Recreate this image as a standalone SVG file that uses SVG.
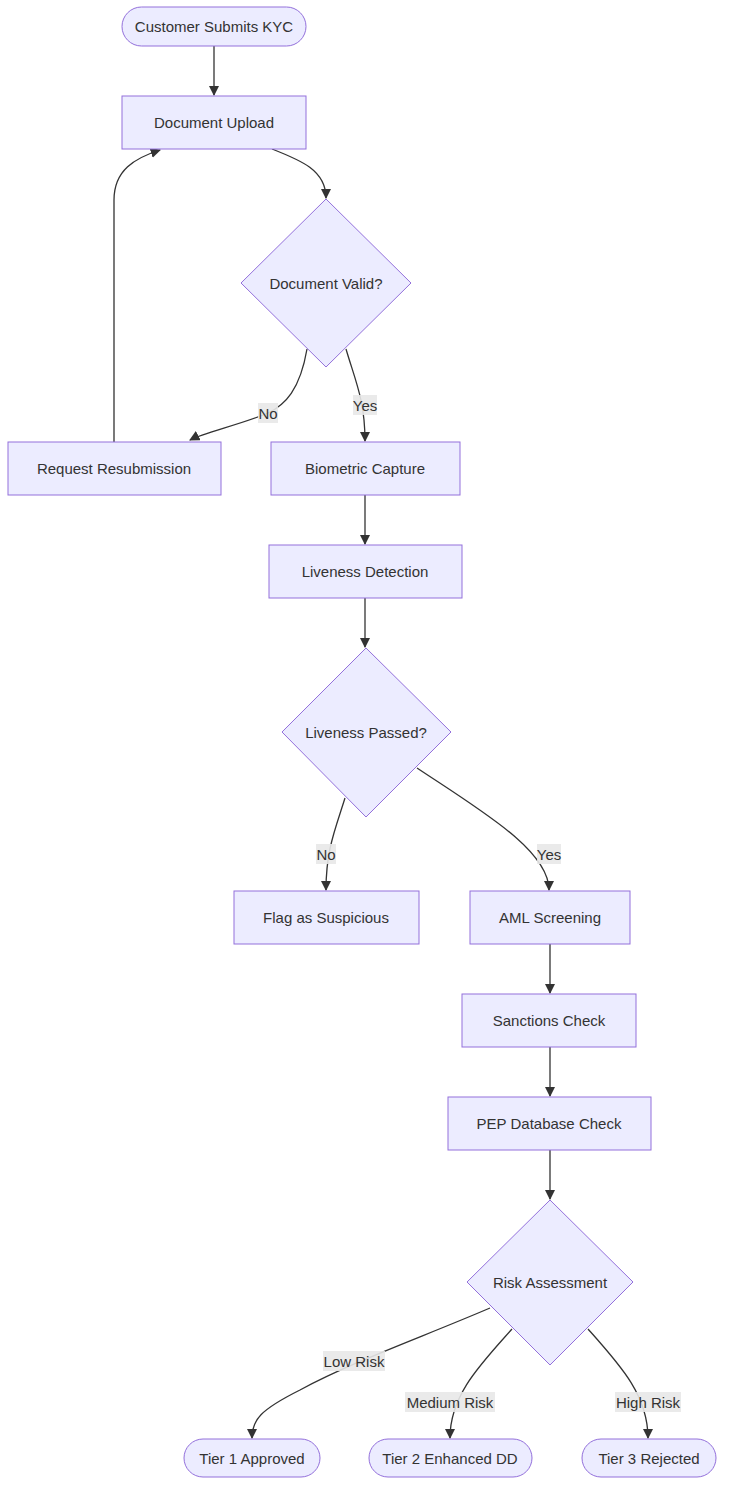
<svg xmlns="http://www.w3.org/2000/svg" width="731" height="1501" viewBox="0 0 731 1501">
<style>
.n{fill:#ECECFF;stroke:#9370DB;stroke-width:1}
.t{font-family:"Liberation Sans","DejaVu Sans",sans-serif;font-size:15px;fill:#333;text-anchor:middle;dominant-baseline:central}
.e{fill:none;stroke:#333;stroke-width:1.3}
.lb{fill:#e8e8e8;opacity:0.9}
</style>
<defs><marker id="a" viewBox="0 0 10 10" refX="9" refY="5" markerWidth="8" markerHeight="8" orient="auto"><path d="M0,0L10,5L0,10z" fill="#333"/></marker></defs>
<rect width="731" height="1501" fill="#fff"/>
<g id="edges">
<path class="e" marker-end="url(#a)" d="M214,46L214,95"/>
<path class="e" marker-end="url(#a)" d="M272,149C300,160 326,170 326,198"/>
<path class="e" marker-end="url(#a)" d="M307,349C300,390 285,405 268,413C240,425 205,432 190,440"/>
<path class="e" marker-end="url(#a)" d="M114,442L114,200C114,170 135,158 160,150"/>
<path class="e" marker-end="url(#a)" d="M346,349C355,380 365,400 365,441"/>
<path class="e" marker-end="url(#a)" d="M365,495L365,544"/>
<path class="e" marker-end="url(#a)" d="M365,598L365,647"/>
<path class="e" marker-end="url(#a)" d="M345,798C335,830 326,850 326,890"/>
<path class="e" marker-end="url(#a)" d="M417,768C480,810 549,850 549,890"/>
<path class="e" marker-end="url(#a)" d="M550,944L550,993"/>
<path class="e" marker-end="url(#a)" d="M550,1047L550,1096"/>
<path class="e" marker-end="url(#a)" d="M550,1150L550,1199"/>
<path class="e" marker-end="url(#a)" d="M490,1308C420,1338 354,1361 300,1390C260,1410 252,1420 252,1438"/>
<path class="e" marker-end="url(#a)" d="M512,1329C480,1365 450,1395 450,1438"/>
<path class="e" marker-end="url(#a)" d="M588,1329C620,1365 648,1395 648,1438"/>
</g>
<g id="labels">
<rect class="lb" x="258" y="403" width="20" height="20"/><text class="t" x="268" y="413">No</text>
<rect class="lb" x="353" y="395" width="24" height="20"/><text class="t" x="365" y="405">Yes</text>
<rect class="lb" x="316" y="844" width="20" height="20"/><text class="t" x="326" y="854">No</text>
<rect class="lb" x="537" y="844" width="24" height="20"/><text class="t" x="549" y="854">Yes</text>
<rect class="lb" x="323" y="1351" width="62" height="20"/><text class="t" x="354" y="1361">Low Risk</text>
<rect class="lb" x="405" y="1392" width="90" height="20"/><text class="t" x="450" y="1402">Medium Risk</text>
<rect class="lb" x="615" y="1392" width="66" height="20"/><text class="t" x="648" y="1402">High Risk</text>
</g>
<g id="kyc"><rect class="n" x="122" y="7" width="184" height="39" rx="19.5"/><text class="t" x="214" y="26">Customer Submits KYC</text></g>
<g id="upload"><rect class="n" x="122" y="96" width="184" height="53"/><text class="t" x="214" y="122">Document Upload</text></g>
<g id="valid"><polygon class="n" points="326,199 411,283 326,367 241,283"/><text class="t" x="326" y="283">Document Valid?</text></g>
<g id="resub"><rect class="n" x="8" y="442" width="213" height="53"/><text class="t" x="114" y="468">Request Resubmission</text></g>
<g id="bio"><rect class="n" x="271" y="442" width="189" height="53"/><text class="t" x="365" y="468">Biometric Capture</text></g>
<g id="live"><rect class="n" x="269" y="545" width="193" height="53"/><text class="t" x="365" y="571">Liveness Detection</text></g>
<g id="passed"><polygon class="n" points="366,648 451,732 366,817 282,732"/><text class="t" x="366" y="732">Liveness Passed?</text></g>
<g id="flag"><rect class="n" x="234" y="891" width="185" height="53"/><text class="t" x="326" y="917">Flag as Suspicious</text></g>
<g id="aml"><rect class="n" x="470" y="891" width="160" height="53"/><text class="t" x="550" y="917">AML Screening</text></g>
<g id="sanc"><rect class="n" x="462" y="994" width="174" height="53"/><text class="t" x="549" y="1020">Sanctions Check</text></g>
<g id="pep"><rect class="n" x="448" y="1097" width="203" height="53"/><text class="t" x="549" y="1123">PEP Database Check</text></g>
<g id="risk"><polygon class="n" points="550,1200 633,1282 550,1365 467,1282"/><text class="t" x="550" y="1282">Risk Assessment</text></g>
<g id="t1"><rect class="n" x="184" y="1439" width="136" height="38" rx="19"/><text class="t" x="252" y="1458">Tier 1 Approved</text></g>
<g id="t2"><rect class="n" x="369" y="1439" width="163" height="38" rx="19"/><text class="t" x="450" y="1458">Tier 2 Enhanced DD</text></g>
<g id="t3"><rect class="n" x="582" y="1439" width="134" height="38" rx="19"/><text class="t" x="649" y="1458">Tier 3 Rejected</text></g>
</svg>
